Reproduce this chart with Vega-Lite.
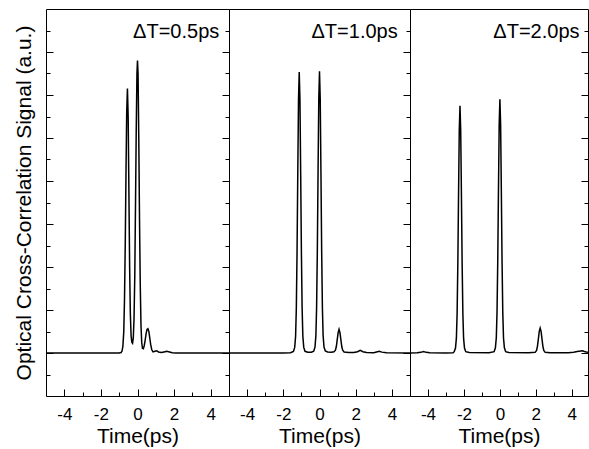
{
  "$schema": "https://vega.github.io/schema/vega-lite/v6.json",
  "padding": {"left": 13, "top": 8, "right": 0, "bottom": 0},
  "autosize": {"type": "pad"},
  "background": "white",
  "config": {
    "font": "Liberation Sans",
    "view": {"stroke": "#000", "strokeWidth": 1},
    "axis": {"domain": false, "grid": false, "tickColor": "#000", "tickWidth": 1, "minExtent": 0, "labelColor": "#000", "titleColor": "#000", "labelFont": "Liberation Sans", "titleFont": "Liberation Sans", "titleFontWeight": "normal", "labelFlush": false}
  },
  "datasets": {
    "p1": [
      {"t": -5, "s": 0}, {"t": -1.0, "s": 0}, {"t": -0.9, "s": 0.02}, {"t": -0.85, "s": 0.08}, {"t": -0.8, "s": 0.3}, {"t": -0.75, "s": 1.0}, {"t": -0.71, "s": 2.5}, {"t": -0.67, "s": 5.0}, {"t": -0.63, "s": 8.3}, {"t": -0.59, "s": 11.2}, {"t": -0.55, "s": 12.3}, {"t": -0.51, "s": 11.0}, {"t": -0.47, "s": 7.5}, {"t": -0.43, "s": 4.0}, {"t": -0.39, "s": 1.8}, {"t": -0.35, "s": 0.8}, {"t": -0.31, "s": 0.5}, {"t": -0.27, "s": 0.45}, {"t": -0.23, "s": 0.7}, {"t": -0.19, "s": 1.6}, {"t": -0.15, "s": 3.5}, {"t": -0.11, "s": 6.8}, {"t": -0.07, "s": 10.3}, {"t": -0.03, "s": 13.0}, {"t": 0.0, "s": 13.6}, {"t": 0.03, "s": 13.0}, {"t": 0.07, "s": 10.0}, {"t": 0.11, "s": 6.2}, {"t": 0.15, "s": 3.2}, {"t": 0.19, "s": 1.3}, {"t": 0.23, "s": 0.5}, {"t": 0.27, "s": 0.22}, {"t": 0.32, "s": 0.2}, {"t": 0.37, "s": 0.35}, {"t": 0.42, "s": 0.6}, {"t": 0.47, "s": 0.9}, {"t": 0.52, "s": 1.1}, {"t": 0.57, "s": 1.13}, {"t": 0.62, "s": 1.0}, {"t": 0.67, "s": 0.7}, {"t": 0.72, "s": 0.4}, {"t": 0.78, "s": 0.15}, {"t": 0.85, "s": 0.05}, {"t": 0.95, "s": 0.08}, {"t": 1.05, "s": 0.1}, {"t": 1.15, "s": 0.05}, {"t": 1.3, "s": 0.02}, {"t": 1.45, "s": 0.05}, {"t": 1.6, "s": 0.08}, {"t": 1.75, "s": 0.05}, {"t": 1.9, "s": 0.01}, {"t": 2.1, "s": 0}, {"t": 5, "s": 0}
    ],
    "p2": [
      {"t": -5, "s": 0}, {"t": -2.0, "s": 0}, {"t": -1.6, "s": 0.01}, {"t": -1.44, "s": 0.07}, {"t": -1.37, "s": 0.26}, {"t": -1.32, "s": 0.78}, {"t": -1.28, "s": 2.09}, {"t": -1.24, "s": 4.7}, {"t": -1.2, "s": 8.36}, {"t": -1.16, "s": 11.76}, {"t": -1.12, "s": 13.07}, {"t": -1.08, "s": 11.76}, {"t": -1.04, "s": 8.36}, {"t": -1.0, "s": 4.7}, {"t": -0.96, "s": 2.09}, {"t": -0.92, "s": 0.78}, {"t": -0.87, "s": 0.26}, {"t": -0.8, "s": 0.08}, {"t": -0.65, "s": 0.04}, {"t": -0.45, "s": 0.04}, {"t": -0.32, "s": 0.08}, {"t": -0.25, "s": 0.27}, {"t": -0.2, "s": 0.8}, {"t": -0.16, "s": 2.1}, {"t": -0.12, "s": 4.72}, {"t": -0.08, "s": 8.38}, {"t": -0.04, "s": 11.8}, {"t": 0, "s": 13.1}, {"t": 0.04, "s": 11.8}, {"t": 0.08, "s": 8.38}, {"t": 0.12, "s": 4.72}, {"t": 0.16, "s": 2.1}, {"t": 0.2, "s": 0.8}, {"t": 0.25, "s": 0.27}, {"t": 0.32, "s": 0.1}, {"t": 0.45, "s": 0.05}, {"t": 0.65, "s": 0.04}, {"t": 0.8, "s": 0.06}, {"t": 0.88, "s": 0.13}, {"t": 0.93, "s": 0.3}, {"t": 0.98, "s": 0.62}, {"t": 1.03, "s": 0.95}, {"t": 1.08, "s": 1.1}, {"t": 1.13, "s": 0.95}, {"t": 1.18, "s": 0.62}, {"t": 1.23, "s": 0.3}, {"t": 1.28, "s": 0.13}, {"t": 1.36, "s": 0.05}, {"t": 1.6, "s": 0.02}, {"t": 1.9, "s": 0.02}, {"t": 2.1, "s": 0.06}, {"t": 2.25, "s": 0.12}, {"t": 2.4, "s": 0.06}, {"t": 2.6, "s": 0.02}, {"t": 3.0, "s": 0.01}, {"t": 3.15, "s": 0.05}, {"t": 3.3, "s": 0.08}, {"t": 3.45, "s": 0.04}, {"t": 3.7, "s": 0.01}, {"t": 5, "s": 0}
    ],
    "p3": [
      {"t": -5, "s": 0}, {"t": -4.6, "s": 0.01}, {"t": -4.4, "s": 0.03}, {"t": -4.25, "s": 0.07}, {"t": -4.1, "s": 0.03}, {"t": -3.9, "s": 0.01}, {"t": -3.0, "s": 0.0}, {"t": -2.6, "s": 0.01}, {"t": -2.54, "s": 0.06}, {"t": -2.47, "s": 0.23}, {"t": -2.42, "s": 0.69}, {"t": -2.38, "s": 1.84}, {"t": -2.34, "s": 4.14}, {"t": -2.3, "s": 7.36}, {"t": -2.26, "s": 10.35}, {"t": -2.22, "s": 11.5}, {"t": -2.18, "s": 10.35}, {"t": -2.14, "s": 7.36}, {"t": -2.1, "s": 4.14}, {"t": -2.06, "s": 1.84}, {"t": -2.02, "s": 0.69}, {"t": -1.97, "s": 0.23}, {"t": -1.9, "s": 0.06}, {"t": -1.7, "s": 0.02}, {"t": -0.6, "s": 0.01}, {"t": -0.32, "s": 0.06}, {"t": -0.25, "s": 0.24}, {"t": -0.2, "s": 0.71}, {"t": -0.16, "s": 1.89}, {"t": -0.12, "s": 4.25}, {"t": -0.08, "s": 7.55}, {"t": -0.04, "s": 10.62}, {"t": 0, "s": 11.8}, {"t": 0.04, "s": 10.62}, {"t": 0.08, "s": 7.55}, {"t": 0.12, "s": 4.25}, {"t": 0.16, "s": 1.89}, {"t": 0.2, "s": 0.71}, {"t": 0.25, "s": 0.24}, {"t": 0.32, "s": 0.06}, {"t": 0.5, "s": 0.02}, {"t": 1.6, "s": 0.01}, {"t": 1.96, "s": 0.03}, {"t": 2.04, "s": 0.12}, {"t": 2.09, "s": 0.32}, {"t": 2.14, "s": 0.66}, {"t": 2.19, "s": 1.01}, {"t": 2.24, "s": 1.16}, {"t": 2.29, "s": 1.01}, {"t": 2.34, "s": 0.66}, {"t": 2.39, "s": 0.32}, {"t": 2.44, "s": 0.12}, {"t": 2.52, "s": 0.03}, {"t": 2.8, "s": 0.01}, {"t": 3.8, "s": 0.01}, {"t": 4.1, "s": 0.04}, {"t": 4.3, "s": 0.07}, {"t": 4.5, "s": 0.09}, {"t": 4.6, "s": 0.1}, {"t": 4.7, "s": 0.07}, {"t": 4.8, "s": 0.05}, {"t": 4.9, "s": 0.04}
    ]
  },
  "hconcat": [
    {
      "width": 183, "height": 387,
      "layer": [
        {"data": {"name": "p1"}, "mark": {"type": "line", "stroke": "#000", "strokeWidth": 1.5, "clip": true},
         "encoding": {
           "x": {"field": "t", "type": "quantitative", "scale": {"domain": [-5, 5], "nice": false, "zero": false},
                 "axis": {"orient": "bottom", "values": [-4, -2, 0, 2, 4], "tickSize": -7, "labelPadding": 17, "labelFontSize": 17, "labelExpr": "datum.value < 0 ? '-' + abs(datum.value) : '' + datum.value", "title": "Time(ps)", "titleFontSize": 21, "titlePadding": 3}},
           "y": {"field": "s", "type": "quantitative", "scale": {"domain": [-2, 16], "nice": false, "zero": false},
                 "axis": {"orient": "left", "values": [0, 2, 4, 6, 8, 10, 12, 14], "tickSize": -7, "labels": false, "title": "Optical Cross-Correlation Signal (a.u.)", "titleFontSize": 21, "titlePadding": 11}}}},
        {"data": {"name": "p1"}, "mark": {"type": "line", "strokeOpacity": 0},
         "encoding": {
           "x": {"field": "t", "type": "quantitative", "axis": {"orient": "bottom", "values": [-3, -1, 1, 3], "tickSize": -4, "labels": false, "title": null}},
           "y": {"field": "s", "type": "quantitative", "axis": {"orient": "left", "values": [-1, 1, 3, 5, 7, 9, 11, 13, 15], "tickSize": -4, "labels": false, "title": null}}}},
        {"data": {"name": "p1"}, "mark": {"type": "line", "strokeOpacity": 0},
         "encoding": {
           "x": {"field": "t", "type": "quantitative", "axis": null},
           "y": {"field": "s", "type": "quantitative", "axis": {"orient": "right", "values": [0, 2, 4, 6, 8, 10, 12, 14], "tickSize": -7, "labels": false, "title": null}}}},
        {"data": {"name": "p1"}, "mark": {"type": "line", "strokeOpacity": 0},
         "encoding": {
           "x": {"field": "t", "type": "quantitative", "axis": null},
           "y": {"field": "s", "type": "quantitative", "axis": {"orient": "right", "values": [-1, 1, 3, 5, 7, 9, 11, 13, 15], "tickSize": -4, "labels": false, "title": null}}}},
        {"data": {"values": [{"label": "ΔT=0.5ps"}]}, "mark": {"type": "text", "align": "right", "baseline": "alphabetic", "fontSize": 20, "color": "#000"},
         "encoding": {
           "x": {"datum": 4.47, "type": "quantitative", "axis": null},
           "y": {"datum": 14.665, "type": "quantitative", "axis": null},
           "text": {"field": "label"}}}
      ],
      "resolve": {"axis": {"x": "independent", "y": "independent"}}
    },
    {
      "width": 181, "height": 387,
      "layer": [
        {"data": {"name": "p2"}, "mark": {"type": "line", "stroke": "#000", "strokeWidth": 1.5, "clip": true},
         "encoding": {
           "x": {"field": "t", "type": "quantitative", "scale": {"domain": [-5, 5], "nice": false, "zero": false},
                 "axis": {"orient": "bottom", "values": [-4, -2, 0, 2, 4], "tickSize": -7, "labelPadding": 17, "labelFontSize": 17, "labelExpr": "datum.value < 0 ? '-' + abs(datum.value) : '' + datum.value", "title": "Time(ps)", "titleFontSize": 21, "titlePadding": 3}},
           "y": {"field": "s", "type": "quantitative", "scale": {"domain": [-2, 16], "nice": false, "zero": false},
                 "axis": {"orient": "right", "values": [0, 2, 4, 6, 8, 10, 12, 14], "tickSize": -7, "labels": false, "title": null}}}},
        {"data": {"name": "p2"}, "mark": {"type": "line", "strokeOpacity": 0},
         "encoding": {
           "x": {"field": "t", "type": "quantitative", "axis": {"orient": "bottom", "values": [-3, -1, 1, 3], "tickSize": -4, "labels": false, "title": null}},
           "y": {"field": "s", "type": "quantitative", "axis": {"orient": "right", "values": [-1, 1, 3, 5, 7, 9, 11, 13, 15], "tickSize": -4, "labels": false, "title": null}}}},
        {"data": {"values": [{"label": "ΔT=1.0ps"}]}, "mark": {"type": "text", "align": "right", "baseline": "alphabetic", "fontSize": 20, "color": "#000"},
         "encoding": {
           "x": {"datum": 4.32, "type": "quantitative", "axis": null},
           "y": {"datum": 14.665, "type": "quantitative", "axis": null},
           "text": {"field": "label"}}}
      ],
      "resolve": {"axis": {"x": "independent", "y": "independent"}}
    },
    {
      "width": 178, "height": 387,
      "layer": [
        {"data": {"name": "p3"}, "mark": {"type": "line", "stroke": "#000", "strokeWidth": 1.5, "clip": true},
         "encoding": {
           "x": {"field": "t", "type": "quantitative", "scale": {"domain": [-5, 4.9], "nice": false, "zero": false},
                 "axis": {"orient": "bottom", "values": [-4, -2, 0, 2, 4], "tickSize": -7, "labelPadding": 17, "labelFontSize": 17, "labelExpr": "datum.value < 0 ? '-' + abs(datum.value) : '' + datum.value", "title": "Time(ps)", "titleFontSize": 21, "titlePadding": 3}},
           "y": {"field": "s", "type": "quantitative", "scale": {"domain": [-2, 16], "nice": false, "zero": false},
                 "axis": {"orient": "right", "values": [0, 2, 4, 6, 8, 10, 12, 14], "tickSize": -7, "labels": false, "title": null}}}},
        {"data": {"name": "p3"}, "mark": {"type": "line", "strokeOpacity": 0},
         "encoding": {
           "x": {"field": "t", "type": "quantitative", "axis": {"orient": "bottom", "values": [-3, -1, 1, 3], "tickSize": -4, "labels": false, "title": null}},
           "y": {"field": "s", "type": "quantitative", "axis": {"orient": "right", "values": [-1, 1, 3, 5, 7, 9, 11, 13, 15], "tickSize": -4, "labels": false, "title": null}}}},
        {"data": {"values": [{"label": "ΔT=2.0ps"}]}, "mark": {"type": "text", "align": "right", "baseline": "alphabetic", "fontSize": 20, "color": "#000"},
         "encoding": {
           "x": {"datum": 4.43, "type": "quantitative", "axis": null},
           "y": {"datum": 14.665, "type": "quantitative", "axis": null},
           "text": {"field": "label"}}}
      ],
      "resolve": {"axis": {"x": "independent", "y": "independent"}}
    }
  ],
  "spacing": 0,
  "bounds": "flush"
}
